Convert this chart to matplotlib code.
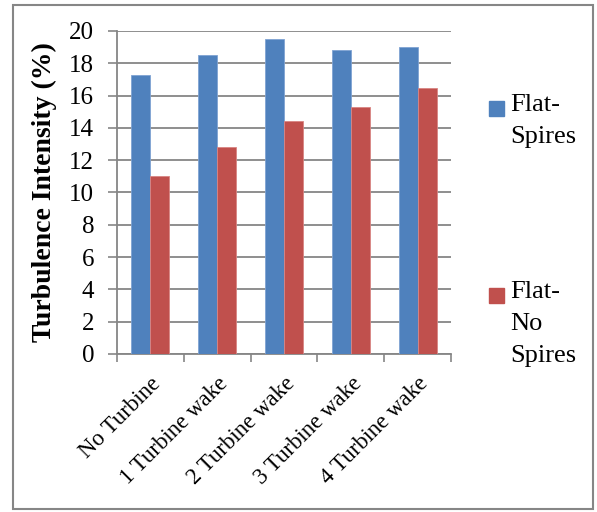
import matplotlib.pyplot as plt
import numpy as np
from matplotlib.patches import Rectangle

categories = ["No Turbine", "1 Turbine wake", "2 Turbine wake", "3 Turbine wake", "4 Turbine wake"]
flat_spires = [17.3, 18.5, 19.5, 18.8, 19.0]
flat_no_spires = [11.0, 12.8, 14.4, 15.3, 16.5]
series_labels = ["Flat-\nSpires", "Flat-\nNo\nSpires"]
colors = ['#4F81BD', '#C0504D']

plt.rcParams['font.family'] = ['Liberation Serif', 'DejaVu Serif']

fig = plt.figure(figsize=(5.97, 5.12), dpi=100)
ax = fig.add_axes([117/597, 1 - 354/512, 334/597, 323/512])

x = np.arange(len(categories))
w = 0.285
b1 = ax.bar(x - w/2, flat_spires, w, color=colors[0], edgecolor='#7FA3D3', linewidth=0.6, zorder=3)
b2 = ax.bar(x + w/2, flat_no_spires, w, color=colors[1], edgecolor='#D98583', linewidth=0.6, zorder=3)

ax.set_xlim(-0.5, len(categories) - 0.5)
ax.set_ylim(0, 20)
ax.set_yticks(range(0, 21, 2))
ax.yaxis.grid(True, color='#868686', linewidth=1.3, zorder=0)
ax.tick_params(axis='y', labelsize=18, length=6.5, width=1.2, color='#868686', pad=10)
ax.set_xticks(x)
ax.set_xticklabels(categories, rotation=45, ha='right', rotation_mode='anchor', fontsize=16.5)
ax.tick_params(axis='x', which='major', length=0, pad=14)
ax.set_xticks(np.arange(-0.5, len(categories)), minor=True)
ax.tick_params(axis='x', which='minor', length=6, width=1.2, color='#868686')
for s in ['top', 'right']:
    ax.spines[s].set_visible(False)
for s in ['left', 'bottom']:
    ax.spines[s].set_color('#868686')
    ax.spines[s].set_linewidth(1.3)

ax.set_ylabel("Turbulence Intensity (%)", fontsize=20, fontweight='bold', labelpad=9)

# legend, drawn by hand so the swatch sits beside the first line
legend_tops = [98, 285]
for lab, col, top in zip(series_labels, colors, legend_tops):
    fig.patches.append(Rectangle((489/597, 1 - (top + 18)/512), 15/597, 15/512,
                                 transform=fig.transFigure, color=col))
    fig.text(510/597, 1 - (top - 4)/512, lab, fontsize=19, va='top', ha='left', linespacing=1.6)

fig.patches.append(Rectangle((13/597, 3/512), 580/597, 504/512, transform=fig.transFigure,
                             fill=False, edgecolor='#868686', linewidth=1.5))

fig.savefig('out.png', dpi=100)
